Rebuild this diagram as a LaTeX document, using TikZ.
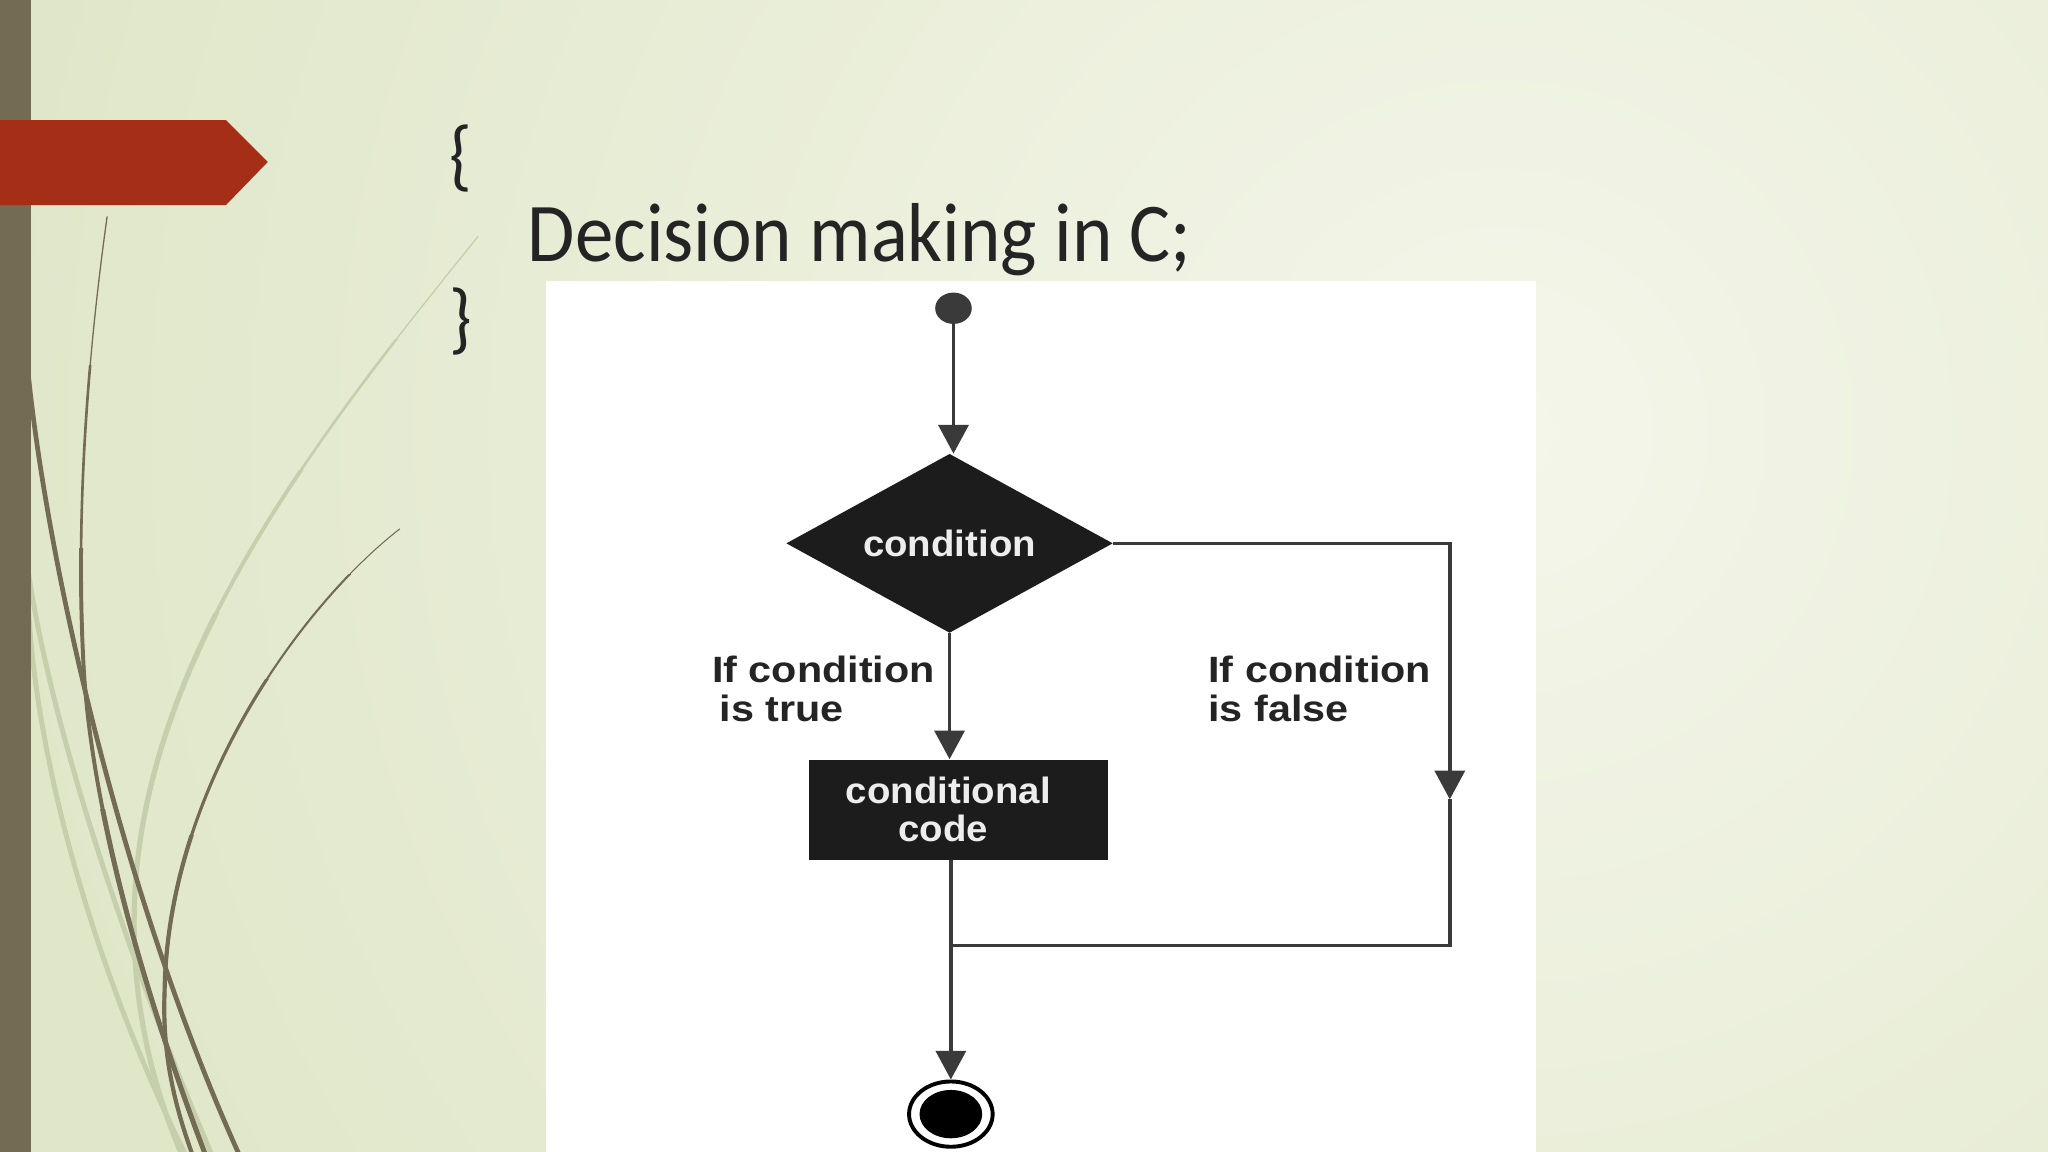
\documentclass[tikz,border=0pt]{standalone}
\usepackage{fontspec}
\setmainfont{Liberation Sans}
\newfontfamily\titlefont[FakeStretch=0.92]{Carlito}
\newfontfamily\diagfont[FakeStretch=1.05]{Liberation Sans}
\newfontfamily\lblfont[FakeStretch=1.13]{Liberation Sans}
\usetikzlibrary{shapes.geometric,arrows.meta}
\definecolor{bgin}{RGB}{244,246,234}
\definecolor{bgout}{RGB}{224,231,201}
\definecolor{barc}{RGB}{115,107,84}
\definecolor{redc}{RGB}{165,46,22}
\definecolor{lightc}{RGB}{198,207,172}
\definecolor{linec}{RGB}{58,58,58}
\definecolor{shapec}{RGB}{28,28,28}
\definecolor{txtc}{RGB}{36,36,36}
\tikzset{
  flowline/.style={draw=linec, line width=2.6pt},
  flow/.style={flowline, -{Triangle[width=23pt,length=22pt]}},
  dtext/.style={font=\diagfont\bfseries\fontsize{28}{29}\selectfont},
  lbl/.style={font=\lblfont\bfseries\fontsize{28}{30}\selectfont, text=txtc, align=left, inner sep=0pt},
  darkcurve/.style={draw=barc, line cap=round},
  lightcurve/.style={draw=lightc, line cap=round},
}
\def\curveA{(82,166) .. controls (66,280) and (58,400) .. (64,510) .. controls (70,620) and (110,760) .. (158,886)}
\def\curveB{(22,290) .. controls (38,440) and (95,690) .. (184,886)}
\def\curveC{(306,405) .. controls (235,460) and (128,600) .. (126,760) .. controls (124,810) and (135,850) .. (148,886)}
\def\curveD{(366,181) .. controls (250,325) and (110,500) .. (103,690) .. controls (100,770) and (118,835) .. (140,886)}
\def\curveE{(22,440) .. controls (40,560) and (100,740) .. (163,886)}
\def\curveF{(22,470) .. controls (30,600) and (80,760) .. (143,886)}
\begin{document}
\begin{tikzpicture}[x=1pt,y=-1pt]
\useasboundingbox (0,0) rectangle (1568,882);
% background
\begin{scope}
  \clip (0,0) rectangle (1568,882);
  \fill[bgout] (0,0) rectangle (1568,882);
  \shade[inner color=bgin, outer color=bgout] (1150,330) circle (1150pt);
  % light curves
  \draw[lightcurve, line width=1pt] \curveD;
  \begin{scope}\clip (0,260) rectangle (400,882); \draw[lightcurve, line width=2pt] \curveD; \end{scope}
  \begin{scope}\clip (0,360) rectangle (400,882); \draw[lightcurve, line width=3pt] \curveD; \end{scope}
  \begin{scope}\clip (0,470) rectangle (400,882); \draw[lightcurve, line width=4pt] \curveD; \end{scope}
  \draw[lightcurve, line width=3.8pt] \curveE;
  \draw[lightcurve, line width=3.8pt] \curveF;
  % dark curves
  \draw[darkcurve, line width=3.6pt] \curveB;
  \draw[darkcurve, line width=1pt] \curveA;
  \begin{scope}\clip (0,280) rectangle (400,882); \draw[darkcurve, line width=2pt] \curveA; \end{scope}
  \begin{scope}\clip (0,420) rectangle (400,882); \draw[darkcurve, line width=3pt] \curveA; \end{scope}
  \begin{scope}\clip (0,620) rectangle (400,882); \draw[darkcurve, line width=3.8pt] \curveA; \end{scope}
  \draw[darkcurve, line width=0.8pt] \curveC;
  \begin{scope}\clip (0,440) rectangle (400,882); \draw[darkcurve, line width=1.6pt] \curveC; \end{scope}
  \begin{scope}\clip (0,520) rectangle (400,882); \draw[darkcurve, line width=2.4pt] \curveC; \end{scope}
  \begin{scope}\clip (0,640) rectangle (400,882); \draw[darkcurve, line width=3.2pt] \curveC; \end{scope}
  % left bar and banner
  \fill[barc] (0,0) rectangle (24,882);
  \fill[redc] (0,92) -- (173,92) -- (205,124) -- (173,157) -- (0,157) -- cycle;
\end{scope}
% title
\node[font=\titlefont\fontsize{60}{66}\selectfont, text=txtc, inner sep=0pt] (lb) at (353,121) {\{};
\node[font=\titlefont\fontsize{60}{66}\selectfont, text=txtc, inner sep=0pt] (rb) at (353,246) {\}};
\node[font=\titlefont\fontsize{64}{70}\selectfont, text=txtc, inner sep=0pt, anchor=base west] (title) at (404,200) {Decision making in C;};
% white panel
\fill[white] (418,215) rectangle (1176,882);
% flowchart nodes
\node[ellipse, fill=linec, minimum width=28pt, minimum height=24pt, inner sep=0pt] (start) at (730,236) {};
\node[diamond, shape aspect=1.8, fill=shapec, minimum width=250pt, minimum height=137pt, inner sep=0pt, dtext, text=white!93!black] (cond) at (727,416) {condition};
\node[rectangle, fill=shapec, minimum width=229pt, minimum height=77pt, inner sep=0pt, dtext, text=white!93!black, align=center] (box) at (734,620) {\hspace*{-16pt}conditional\\\hspace*{-24pt}code};
\node[ellipse, draw=black, line width=3pt, fill=white, minimum width=64pt, minimum height=50pt, inner sep=0pt] (stop) at (728,853) {};
\node[ellipse, fill=black, minimum width=48pt, minimum height=37pt, inner sep=0pt] (stopin) at (728,853) {};
\coordinate (fa) at (1110,612);
\coordinate (j) at (728,724);
% labels
\node[lbl, anchor=north west] (tlab) at (545,502) {If condition\\\hspace{6pt}is true};
\node[lbl, anchor=north west] (flab) at (925,502) {If condition\\is false};
% connectors
\draw[flow] (start) -- (start |- cond.north);
\draw[flow] (cond.south) -- (cond.south |- box.north);
\draw[flow] (box.south -| stop.north) -- (stop.north);
\draw[flow] (cond.east) -| (fa);
\draw[flowline] (fa) |- (j);
\end{tikzpicture}
\end{document}
